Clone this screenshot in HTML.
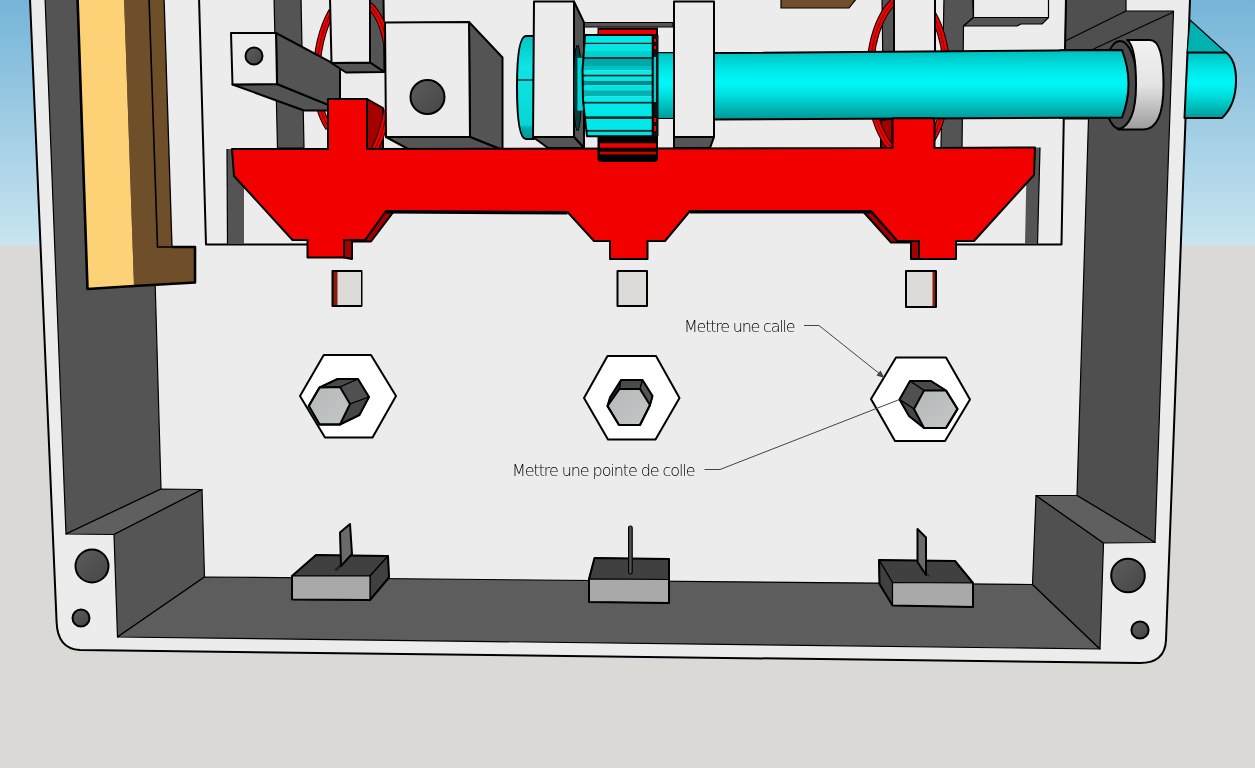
<!DOCTYPE html>
<html lang="fr"><head><meta charset="utf-8"><title>Mettre une calle</title>
<style>
html,body{margin:0;padding:0;background:#dad9d5;overflow:hidden}
svg{display:block}
text{font-family:"DejaVu Sans","Liberation Sans",sans-serif;font-weight:200;fill:#000}
.k{stroke:#000;stroke-width:2;stroke-linejoin:round;stroke-linecap:round}
.t{stroke:#000;stroke-width:1.2;stroke-linejoin:round}
.L{fill:#ececec}.D{fill:#545454}.D2{fill:#4f4f4f}.F{fill:#5d5d5d}
.R{fill:#f20000}.RD{fill:#a40000}
</style></head><body>
<svg width="1255" height="768" viewBox="0 0 1255 768">
<defs>
<linearGradient id="sky" x1="0" y1="0" x2="0" y2="1"><stop offset="0" stop-color="#75b4d8"/><stop offset="1" stop-color="#c9e5f0"/></linearGradient>
<linearGradient id="cy" x1="0" y1="0" x2="0" y2="1"><stop offset="0" stop-color="#00bebe"/><stop offset="0.3" stop-color="#00eaea"/><stop offset="0.47" stop-color="#00f8f8"/><stop offset="0.62" stop-color="#00e4e4"/><stop offset="1" stop-color="#009898"/></linearGradient>
<linearGradient id="cyU" gradientUnits="userSpaceOnUse" x1="0" y1="51" x2="0" y2="119"><stop offset="0" stop-color="#00bebe"/><stop offset="0.3" stop-color="#00eaea"/><stop offset="0.47" stop-color="#00f8f8"/><stop offset="0.62" stop-color="#00e4e4"/><stop offset="1" stop-color="#009898"/></linearGradient>
<linearGradient id="cyE" x1="0" y1="0" x2="0" y2="1"><stop offset="0" stop-color="#00c4c4"/><stop offset="0.3" stop-color="#10e4e4"/><stop offset="0.86" stop-color="#08d6d6"/><stop offset="0.9" stop-color="#00a8a8"/><stop offset="1" stop-color="#009c9c"/></linearGradient>
<linearGradient id="ring" x1="0" y1="0" x2="0" y2="1"><stop offset="0" stop-color="#f2f2f2"/><stop offset="0.5" stop-color="#e4e4e4"/><stop offset="1" stop-color="#9c9c9c"/></linearGradient>
<linearGradient id="hole" x1="0" y1="0" x2="1" y2="1"><stop offset="0" stop-color="#5c5c5c"/><stop offset="1" stop-color="#464646"/></linearGradient>
<linearGradient id="bolt" x1="0" y1="0" x2="1" y2="1"><stop offset="0" stop-color="#b4b8b8"/><stop offset="1" stop-color="#c4c7c7"/></linearGradient>
</defs>
<!-- sky + ground -->
<rect x="0" y="0" width="1255" height="246" fill="url(#sky)"/>
<rect x="0" y="245.5" width="1255" height="523" fill="#dad9d5"/>
<!-- SCENE -->
<g id="box">
<!-- outer silhouette -->
<path class="L k" d="M29.9,-3 L56.6,622 Q57.5,649 80,650 L1140,663 Q1165,663 1166,640 L1190.1,-3 Z"/>
<!-- left wall inner -->
<polygon class="D t" points="45,-3 147,-3 161,489 66,534"/>
<!-- right wall inner -->
<polygon class="D2 t" points="1066,-3 1126,-3 1126,11 1173.5,11 1155,542.5 1077,495.5 1088.5,119 1063.8,119"/>
<line class="t" x1="1065.3" y1="41" x2="1126" y2="11"/>
<line class="t" x1="1093.5" y1="49" x2="1173.5" y2="12"/>
<!-- left step -->
<polygon class="t" fill="#5f5f5f" points="66,534 161,489 202,489.5 114,534.5"/>
<polygon class="t" fill="#555" points="114,534.5 202,489.5 204.5,577 117.5,637"/>
<!-- floor -->
<polygon class="F t" points="117.5,637 204.5,577 1032.5,584.5 1100,649"/>
<!-- right step -->
<polygon class="t" fill="#505050" points="1036,495.5 1103.5,543 1100,649 1032.5,584.5"/>
<polygon class="t" fill="#5f5f5f" points="1036,495.5 1077,495.5 1155,542.5 1103.5,543"/>
<!-- holes -->
<circle class="k" fill="url(#hole)" cx="92" cy="566" r="16.5"/>
<circle class="k" fill="url(#hole)" cx="81" cy="618" r="8.5"/>
<circle class="k" fill="url(#hole)" cx="1128" cy="575.5" r="16.8"/>
<circle class="k" fill="url(#hole)" cx="1140" cy="630" r="8.6"/>
<!-- back panel lines -->
<polyline class="k" fill="none" points="199,-3 206,244.5 307,244.5"/>
<polyline class="k" fill="none" points="956,244.5 1061.5,244.5 1066,-3"/>
<polygon class="D" points="227,149 244,149 244,244 227.5,244"/>
<polygon class="D" points="1027,147.5 1040,147.5 1037.5,244 1025,244"/>
<line class="t" x1="1040" y1="147.5" x2="1037.5" y2="244"/>
<line class="t" x1="227" y1="149" x2="227.5" y2="244"/>
</g>
<g id="mech">
<!-- yellow / brown -->
<polygon fill="#fdd277" points="77.5,-3 124,-3 134,286 87.5,289"/>
<polygon fill="#6f4e2a" points="124,-3 164,-3 172,247 195,247 195,282.5 134,286"/>
<polyline fill="none" stroke="#000" stroke-width="1.6" points="149,-3 157.5,247 172,247"/>
<polyline fill="none" stroke="#000" stroke-width="2.6" stroke-linejoin="round" points="77.5,-3 87.5,289 134,286 195,282.5 195,247 172,247"/>
<polyline fill="none" stroke="#000" stroke-width="1.3" points="172,247 164,-3"/>
<!-- vertical dark bars -->
<polygon class="D t" points="274,-3 301,-3 304,148 277.5,148"/>
<polygon class="D t" points="944,-3 972.5,-3 973.5,17.5 963.5,26 962,148 941,148"/>
<!-- right bracket -->
<polygon class="L t" points="973.5,-3 1048.5,-3 1048.5,17.5 973.5,17.5"/>
<polygon class="D t" points="973.5,17.5 1048.5,17.5 1042,24 1021,24 1017,26 963.5,26"/>
<!-- brown top piece -->
<polygon class="t" fill="#70502c" points="781,-2 781,8 849,8 857,-2"/>
<!-- side faces behind rings -->
<polygon class="D k" points="370,-2 383.5,-2 384.5,72 370,62.5"/>
<polygon class="D t" points="882,-2 894,-2 894,148 884,148"/>
<polygon class="RD k" points="367,99 383,108 383,149 367,149"/>
<polygon class="RD k" points="892.5,118.5 881,120 881,149 892.5,149"/>
<!-- rings (red) -->
<g fill="none">
<path d="M332,11 C323,27 316.5,50 316.5,78 C316.5,100 321,116 329,128 M369,5 C378,13 383.5,25 386.5,42 M387,110 C385,124 381,137 375,149" stroke="#000" stroke-width="7.6"/>
<path d="M332,11 C323,27 316.5,50 316.5,78 C316.5,100 321,116 329,128 M369,5 C378,13 383.5,25 386.5,42 M387,110 C385,124 381,137 375,149" stroke="#f20000" stroke-width="5.6"/>
<path d="M332,11 C323,27 316.5,50 316.5,78 C316.5,100 321,116 329,128 M369,5 C378,13 383.5,25 386.5,42 M387,110 C385,124 381,137 375,149" stroke="#400" stroke-width="0.8"/>
<ellipse cx="908.3" cy="76" rx="38.4" ry="80" stroke="#000" stroke-width="7.6"/>
<ellipse cx="908.3" cy="76" rx="38.4" ry="80" stroke="#f20000" stroke-width="5.6"/>
<ellipse cx="908.3" cy="76" rx="38.4" ry="80" stroke="#400" stroke-width="0.8"/>
</g>
<!-- small block w/ hole -->
<polygon class="D k" points="232.5,84.5 277,84 340,109.6 340,110.5 304,110.5"/>
<polygon class="D k" points="276,33 340,67.1 340,109.6 277,84"/>
<polygon class="L k" points="231,33 276,33 277,84 232.5,84.5"/>
<circle class="k" fill="url(#hole)" cx="254" cy="56" r="8.5"/>
<!-- white vertical block left -->
<polygon class="D k" points="331.5,63 370,62.5 384,72 346,72.5"/>
<polygon class="L k" points="330,-2 370,-2 370,62.5 331.5,63"/>
<!-- white vertical block right (behind shaft) -->
<polygon class="L k" points="894,-2 935,-2 935,60 894,60"/>
<!-- big block -->
<polygon class="D k" points="469,22 502.5,57.5 502.5,150 470,137"/>
<polygon class="D k" points="386,137 470,137 502.5,150 410,150"/>
<polygon class="L k" points="385,22.5 469,22 470,137 386,137"/>
<circle class="k" fill="url(#hole)" cx="427.5" cy="97" r="17"/>
</g>
<g id="shaft">
<!-- dark bar behind gear + rack top -->
<rect x="584" y="22.5" width="89" height="4.5" class="D t"/>
<rect x="597.5" y="27.5" width="60.5" height="8.5" fill="#000"/>
<rect x="599" y="29.8" width="57" height="4.2" class="R"/>
<!-- left shaft end -->
<path class="k" fill="url(#cyE)" d="M534,36 L526,36 Q517,36 517,87 Q517,139 526,139 L534,139 Z"/>
<line class="t" x1="517" y1="80" x2="534" y2="80"/>
<!-- bearing block 1 -->
<polygon class="D k" points="574,1.5 584,22.5 584,148 574,137"/>
<polygon class="D k" points="533,137 574,137 584,148 548,148"/>
<polygon class="L k" points="534,1.5 574,1.5 574,137 533,137"/>
<!-- shaft between gear and block 2 -->
<rect x="657" y="52.7" width="17" height="65.8" fill="url(#cyU)" class="t"/>
<!-- gear -->
<ellipse cx="577.5" cy="88" rx="4" ry="43" fill="#0a3c3c" stroke="#000" stroke-width="1"/>
<rect x="577" y="57.5" width="8" height="53.5" fill="#00d4d4" stroke="#003c3c" stroke-width="0.8"/>
<rect x="652" y="35" width="6.5" height="101" fill="#111"/>
<rect x="652.5" y="57" width="3.5" height="45" fill="#00d0d0"/>
<rect x="654" y="39" width="2" height="3" class="R"/><rect x="654" y="46" width="2" height="3" class="R"/><rect x="654" y="118" width="2" height="4" class="R"/><rect x="654" y="126" width="2" height="5" class="R"/>
<rect x="585" y="35" width="67.7" height="7.6" fill="#00eaea"/>
<rect x="585" y="42.6" width="67.7" height="1.8" fill="#003838"/>
<rect x="584" y="44.4" width="68.7" height="6.6" fill="#00e6e6"/>
<rect x="584" y="51" width="68.7" height="6.0" fill="#00cfcf"/>
<rect x="583" y="57" width="69.7" height="2.0" fill="#003838"/>
<rect x="582.5" y="59" width="70.2" height="7.0" fill="#00a9a9"/>
<rect x="582.5" y="66" width="70.2" height="4.5" fill="#00c2c2"/>
<rect x="582.5" y="70.5" width="70.2" height="4.1" fill="#00eeee"/>
<rect x="583" y="74.6" width="69.7" height="2.1" fill="#003838"/>
<rect x="583" y="76.7" width="69.7" height="4.1" fill="#00e8e8"/>
<rect x="583" y="80.8" width="69.7" height="4.6" fill="#008c8c"/>
<rect x="583" y="85.4" width="69.7" height="4.8" fill="#00e4e4"/>
<rect x="584" y="90.2" width="68.7" height="6.3" fill="#00b2b2"/>
<rect x="584" y="96.5" width="68.7" height="5.2" fill="#00ecec"/>
<rect x="584" y="101.7" width="68.7" height="2.1" fill="#003838"/>
<rect x="584.5" y="103.8" width="68.2" height="12.4" fill="#00e9e9"/>
<rect x="585" y="116.2" width="67.7" height="3.1" fill="#003838"/>
<rect x="585.5" y="119.3" width="67.2" height="10.5" fill="#00e8e8"/>
<rect x="586" y="129.8" width="66.7" height="2.1" fill="#003838"/>
<rect x="587" y="131.9" width="65.7" height="4.3" fill="#00e2e2"/>
<path class="k" fill="none" d="M585,35 L652.7,35 L652.7,136.2 L587,136.2 L585,119 L583,100 L582.5,70 L584,50 Z"/>
<!-- main shaft -->
<path class="k" fill="url(#cyU)" d="M714,53 L1125,50 Q1133,84 1125,117.5 L714,119.5 Z"/>
<!-- bearing block 2 -->
<polygon class="D k" points="674,137 714,137 710,148 674,148"/>
<polygon class="L k" points="674,1.5 714,1.5 714,137 674,137"/>
<!-- bearing ring on right wall -->
<ellipse cx="1120" cy="85" rx="17" ry="44" fill="#4a4a4a" class="k"/>
<path class="k" fill="url(#ring)" d="M1127,40 L1150,40 Q1163.5,40 1163.5,85 Q1163.5,129.5 1143,129.5 L1118,129.5 Q1136,125 1136,85 Q1136,45 1127,40 Z"/>
<path fill="url(#cyU)" d="M1060,50.3 L1122,50 Q1135,84 1122,117.5 L1060,117.8 Z"/>
<path class="k" fill="none" d="M1060,50.3 L1122,50 Q1135,84 1122,117.5 L1060,117.8"/>
<!-- shaft outside -->
<polygon class="t" fill="#00b2b2" points="1190,20 1226,52.5 1187,52.5"/>
<path class="k" fill="url(#cyU)" d="M1187.5,52.5 L1226,52.5 Q1236,60 1236,80 Q1236,105 1222,118 L1184.5,118 Z"/>
</g>
<g id="red">
<!-- dark red side faces -->
<polygon class="RD k" points="344,240 352,240 352,259 344,257.5"/>
<polygon class="RD k" points="352,240 365,240 386,211 393,212.5 371,241.5 352,241.5"/>
<polygon class="RD k" points="911,241 919,241 919,259 911,259"/>
<polygon class="RD k" points="911,241 897.5,241 871,211 864,212.5 891,242.5 911,242.5"/>
<polyline fill="none" stroke="#000" stroke-width="3" points="386,212 567.5,213"/>
<polyline fill="none" stroke="#000" stroke-width="3" points="690,212 871,212"/>
<!-- main face -->
<path class="R k" d="M232,149 L328,149 L328,99 L367,99 L367,149 L892.5,148 L892.5,118.3 L934.5,118.3 L934.5,148 L1035,147.5 L1034,175 L974,241 L956,241 L956,259 L919,259 L919,241 L897.5,241 L871,211 L690,211 L665,241 L647.5,241 L647.5,259 L610,259 L610,241 L594,241 L567.5,212 L386,211 L365,240 L344,240 L344,257.5 L307.5,257.5 L307.5,240 L292.5,240 L234,176 Z"/>
<!-- rack below gear -->
<path d="M597.5,136 L658,136 L658,158 Q658,162 654,162 L601.5,162 Q597.5,162 597.5,158 Z" fill="#000"/>
<rect x="600" y="143.3" width="56" height="4.4" class="R"/>
<rect x="600" y="151.6" width="56" height="2.8" fill="#d00000"/>
<!-- shims -->
<rect x="332.5" y="271" width="29" height="35" fill="#8a1c0c" class="k"/>
<rect x="337.5" y="272" width="23.5" height="33" fill="#dcdbd8"/>
<rect x="617.5" y="271" width="29.5" height="35" fill="#dcdbd8" class="k"/>
<rect x="906" y="271" width="30" height="36" fill="#8a1c0c" class="k"/>
<rect x="907" y="272" width="25.5" height="34" fill="#dcdbd8"/>
</g>
<g id="front">
<!-- hex 1 -->
<polygon class="k" fill="#fff" points="323.75,355 371,355 396,396 372.5,437.5 325,437.5 300,396"/>
<polygon class="t" fill="#4a4a4a" points="319.5,387.5 337.5,379 358,379 340,387"/>
<polygon class="t" fill="#505050" points="340,387 358,379 369,397 350,404"/>
<polygon class="t" fill="#464646" points="350,404 369,397 359.5,415 340,424.5"/>
<polygon class="k" fill="url(#bolt)" points="308.75,406 319.5,387.5 340,387 350,404 340,424.5 319.5,424.5"/>
<!-- hex 2 -->
<polygon class="k" fill="#fff" points="607.5,356 656,356 679.5,398 655.5,439.5 608,439.5 584,398"/>
<polygon class="t" fill="#222" points="607.5,406 610,397.5 621,380 619.5,389"/>
<polygon class="t" fill="#4a4a4a" points="619.5,389 621,380 642.5,380 640,389"/>
<polygon class="t" fill="#555" points="640,389 642.5,380 652.5,396 650,405"/>
<polygon class="k" fill="url(#bolt)" points="607.5,406 619.5,389 640,389 650,405 640,425 619,425"/>
<!-- hex 3 -->
<polygon class="k" fill="#fff" points="896,357.5 946,357.5 970,399.5 945,441 895,441 871,399"/>
<polygon class="t" fill="#4a4a4a" points="924,390.5 910,381 931,381 946,390.5"/>
<polygon class="t" fill="#505050" points="914,409 899.5,399.5 910,381 924,390.5"/>
<polygon class="t" fill="#464646" points="914,409 899.5,399.5 909,416 924,428"/>
<polygon class="k" fill="url(#bolt)" points="914,409 924,390.5 946,390.5 957.5,409 946,428 924,428"/>
<g fill="none" class="k"><polygon points="308.75,406 319.5,387.5 337.5,379 358,379 369,397 359.5,415 340,424.5 319.5,424.5"/>
<polygon points="607.5,406 610,397.5 621,380 642.5,380 652.5,396 650,405 640,425 619,425"/>
<polygon points="899.5,399.5 910,381 931,381 946,390.5 957.5,409 946,428 924,428 909,416"/></g>
<!-- labels -->
<g style="filter:opacity(0.999)">
<text x="684" y="331.7" font-size="16" textLength="111.5" lengthAdjust="spacing">Mettre une calle</text>
<text x="512" y="475.7" font-size="16" textLength="183.5" lengthAdjust="spacing">Mettre une pointe de colle</text>
</g>
<polyline fill="none" stroke="#444" stroke-width="1" points="804,325.5 819,325.5 883,376.5"/>
<polygon fill="#444" points="884.5,378 876.5,375.5 880.5,370.5"/>
<polyline fill="none" stroke="#444" stroke-width="1" points="704.5,469.5 720,469.5 899.5,399.5"/>
<!-- foot 1 -->
<polygon class="t" fill="#404040" points="292,576 316,555 388,556 370,576"/>
<polygon class="t" fill="#404040" points="370,576 388,556 389,577.5 370,600"/>
<polygon class="t" fill="#a9a9a9" points="292,576 370,576 370,600 292,599.5"/>
<polygon class="k" fill="none" points="292,576 316,555 388,556 389,577.5 370,600 292,599.5"/>
<polygon fill="#222" points="334,570 341,563 343,565 337,571"/>
<polygon class="k" fill="#6a6a6a" points="340,532.5 350,524 352,554 341,566"/>
<!-- foot 2 -->
<polygon class="t" fill="#404040" points="589,579 594.5,558 669,559 669,579.5"/>
<polygon class="t" fill="#a9a9a9" points="589,579 669,579.5 669,603 589,602"/>
<polygon class="k" fill="none" points="589,579 594.5,558 669,559 669,603 589,602"/>
<rect x="628.6" y="526" width="3.6" height="48" rx="1.8" fill="#555" class="t"/>
<!-- foot 3 -->
<polygon class="t" fill="#404040" points="879,560 955,561 973,583 892.5,582.5"/>
<polygon class="t" fill="#404040" points="879,560 892.5,582.5 892.5,605.5 879.5,584"/>
<polygon class="t" fill="#a9a9a9" points="892.5,582.5 973,583 973,607 892.5,605.5"/>
<polygon class="k" fill="none" points="879,560 955,561 973,583 973,607 892.5,605.5 879.5,584"/>
<polygon fill="#222" points="924,570 928,574 931,577 926,575"/>
<polygon class="k" fill="#6a6a6a" points="917.5,529 926,537.5 926,575 917.5,562"/>
</g>
</svg>
</body></html>
